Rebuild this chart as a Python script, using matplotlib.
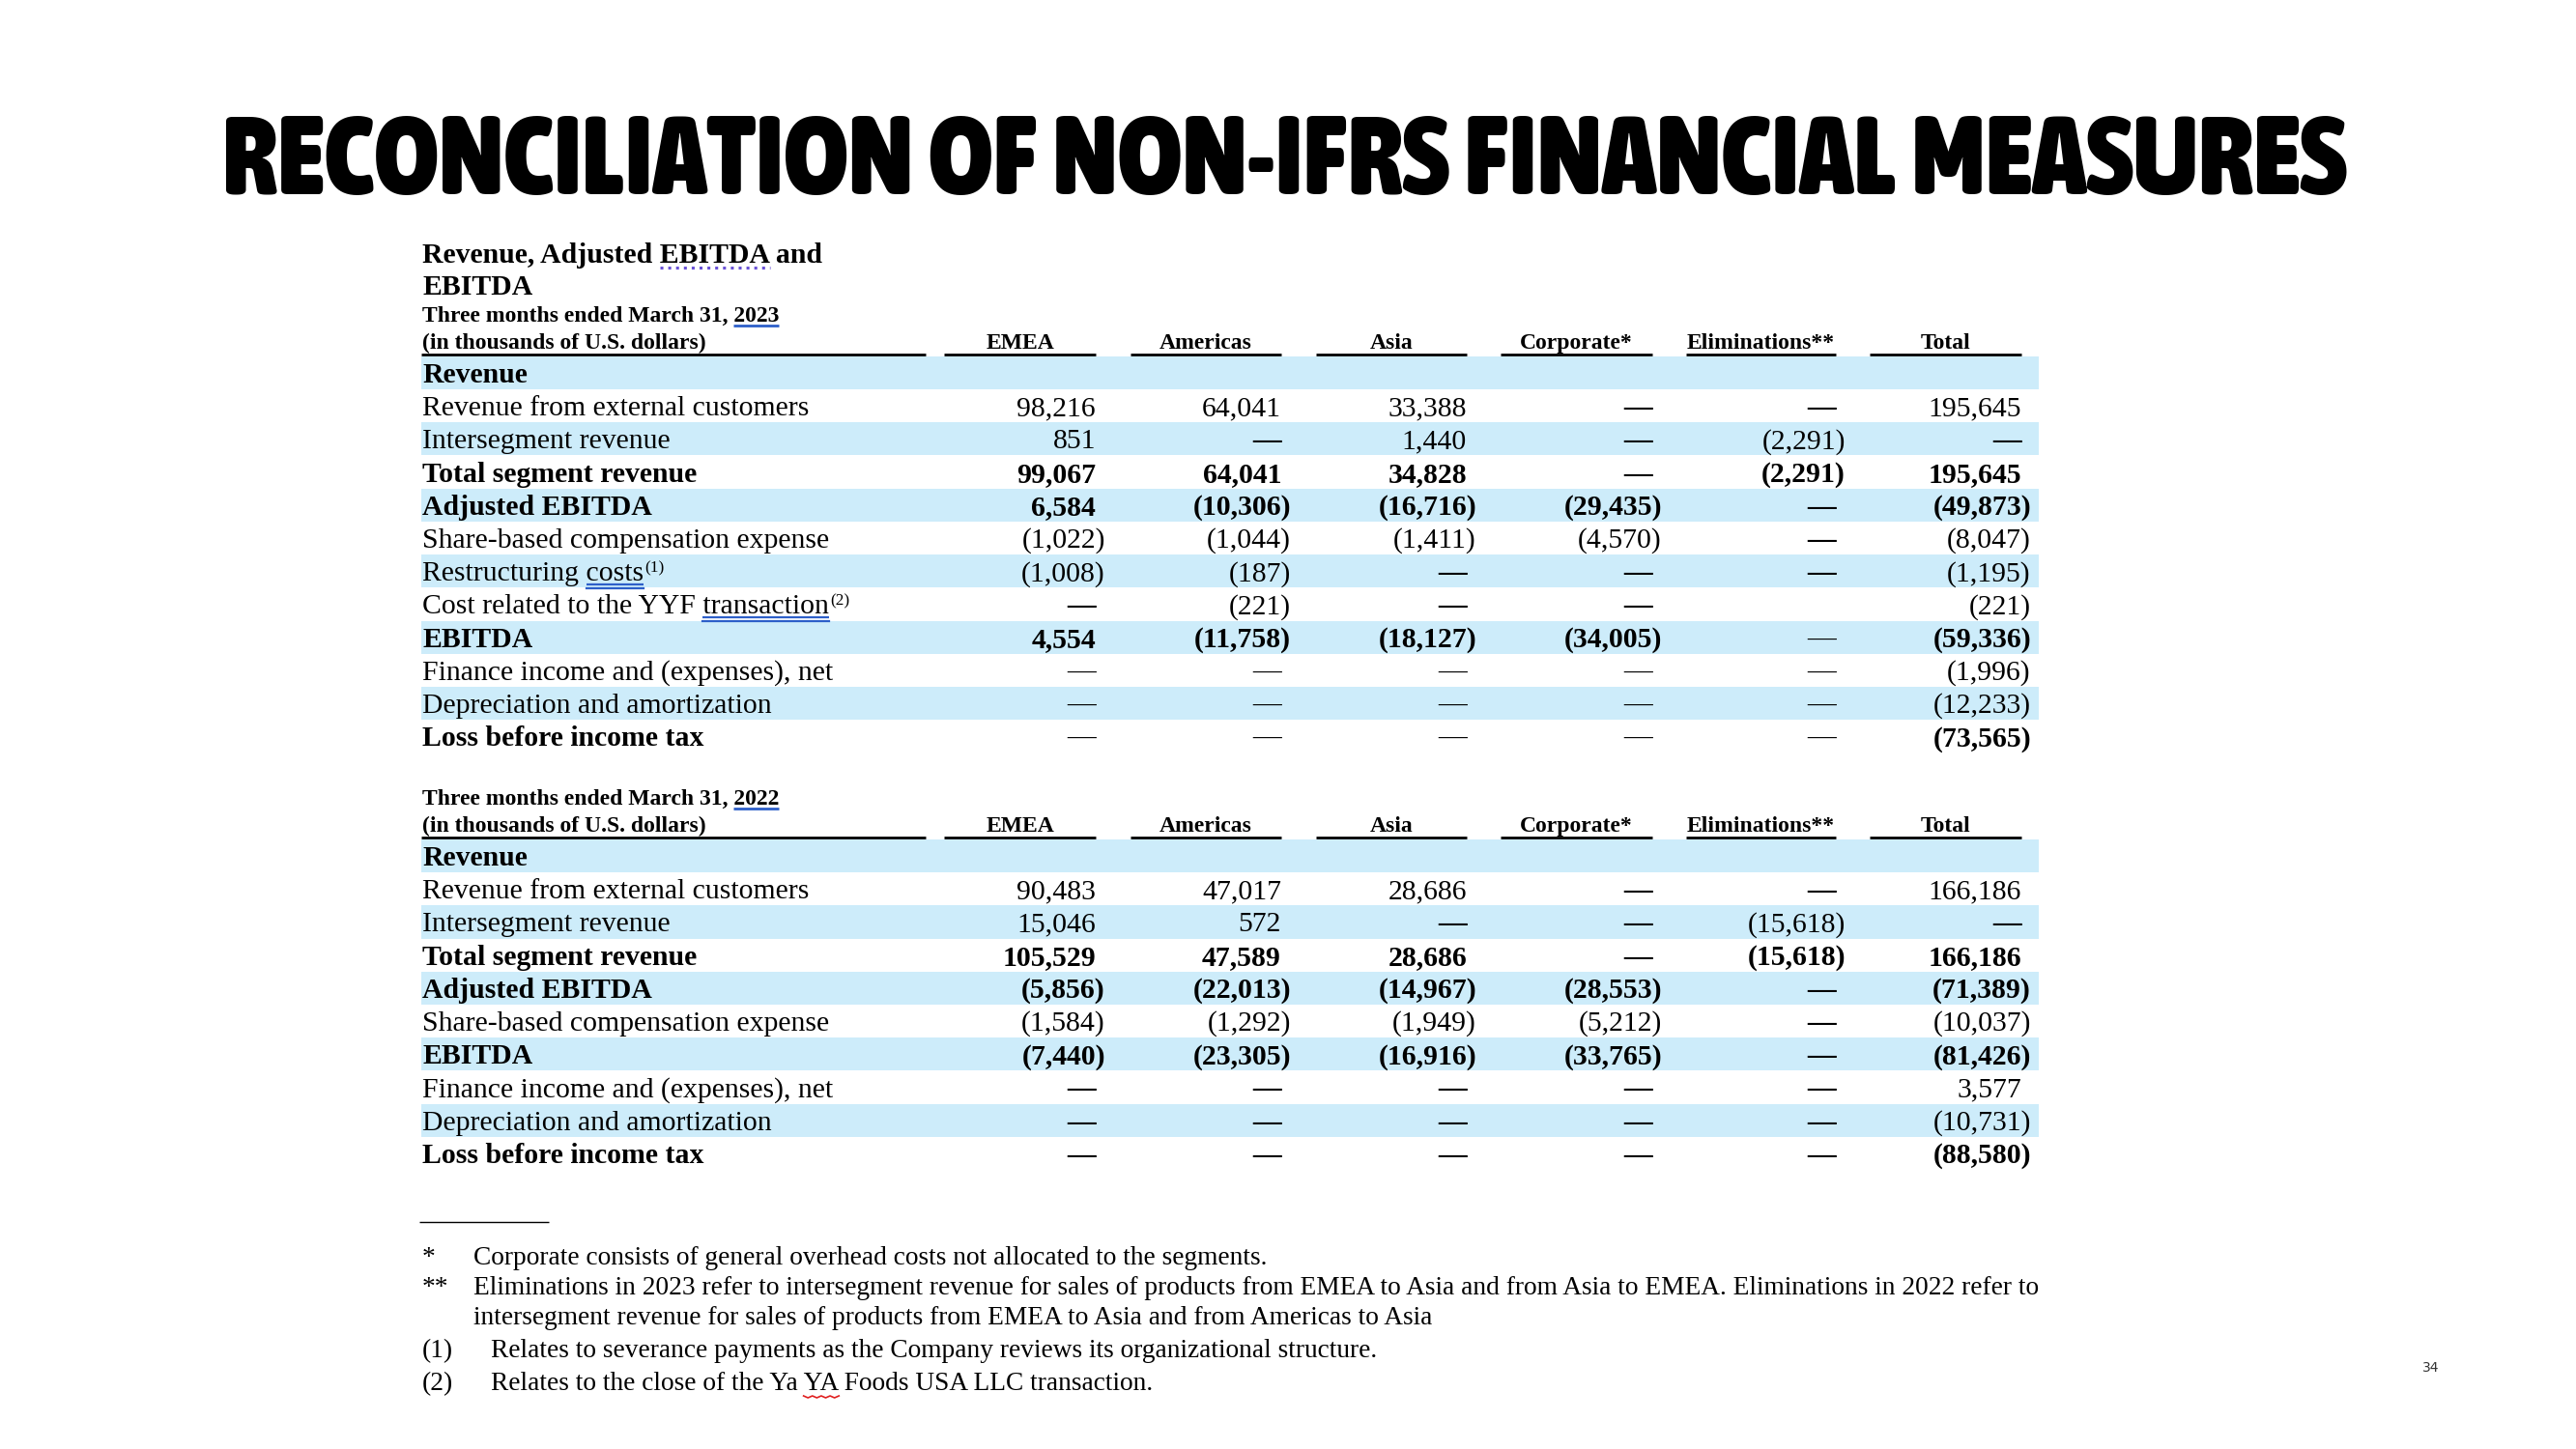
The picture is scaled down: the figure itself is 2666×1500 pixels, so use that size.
import matplotlib.pyplot as plt
import numpy as np
from matplotlib import font_manager
from matplotlib.font_manager import FontProperties

title_text = 'RECONCILIATION OF NON-IFRS FINANCIAL MEASURES'
heading_lines = ['Revenue, Adjusted EBITDA and', 'EBITDA']
unit_text = '(in thousands of U.S. dollars)'
col_names = ['EMEA', 'Americas', 'Asia', 'Corporate*', 'Eliminations**', 'Total']

# ---- three months ended March 31, 2023
rows_2023 = ['Revenue', 'Revenue from external customers', 'Intersegment revenue',
             'Total segment revenue', 'Adjusted EBITDA', 'Share-based compensation expense',
             'Restructuring costs', 'Cost related to the YYF transaction', 'EBITDA',
             'Finance income and (expenses), net', 'Depreciation and amortization',
             'Loss before income tax']
bold_2023 = [True, False, False, True, True, False, False, False, True, False, False, True]
notes_2023 = ['', '', '', '', '', '', '(1)', '(2)', '', '', '', '']
emea_2023 = ['', '98,216', '851', '99,067', '6,584', '(1,022)', '(1,008)', '—', '4,554', '—', '—', '—']
americas_2023 = ['', '64,041', '—', '64,041', '(10,306)', '(1,044)', '(187)', '(221)', '(11,758)', '—', '—', '—']
asia_2023 = ['', '33,388', '1,440', '34,828', '(16,716)', '(1,411)', '—', '—', '(18,127)', '—', '—', '—']
corporate_2023 = ['', '—', '—', '—', '(29,435)', '(4,570)', '—', '—', '(34,005)', '—', '—', '—']
elim_2023 = ['', '—', '(2,291)', '(2,291)', '—', '—', '—', '', '—', '—', '—', '—']
total_2023 = ['', '195,645', '—', '195,645', '(49,873)', '(8,047)', '(1,195)', '(221)', '(59,336)',
              '(1,996)', '(12,233)', '(73,565)']
thin_rows_2023 = [9, 10, 11]
thin_cells_2023 = [(8, 4)]

# ---- three months ended March 31, 2022
rows_2022 = ['Revenue', 'Revenue from external customers', 'Intersegment revenue',
             'Total segment revenue', 'Adjusted EBITDA', 'Share-based compensation expense',
             'EBITDA', 'Finance income and (expenses), net', 'Depreciation and amortization',
             'Loss before income tax']
bold_2022 = [True, False, False, True, True, False, True, False, False, True]
notes_2022 = [''] * 10
emea_2022 = ['', '90,483', '15,046', '105,529', '(5,856)', '(1,584)', '(7,440)', '—', '—', '—']
americas_2022 = ['', '47,017', '572', '47,589', '(22,013)', '(1,292)', '(23,305)', '—', '—', '—']
asia_2022 = ['', '28,686', '—', '28,686', '(14,967)', '(1,949)', '(16,916)', '—', '—', '—']
corporate_2022 = ['', '—', '—', '—', '(28,553)', '(5,212)', '(33,765)', '—', '—', '—']
elim_2022 = ['', '—', '(15,618)', '(15,618)', '—', '—', '—', '—', '—', '—']
total_2022 = ['', '166,186', '—', '166,186', '(71,389)', '(10,037)', '(81,426)', '3,577',
              '(10,731)', '(88,580)']

foot_marks = ['*', '**', '', '(1)', '(2)']
foot_lines = ['Corporate consists of general overhead costs not allocated to the segments.',
              'Eliminations in 2023 refer to intersegment revenue for sales of products from EMEA to Asia '
              'and from Asia to EMEA. Eliminations in 2022 refer to',
              'intersegment revenue for sales of products from EMEA to Asia and from Americas to Asia',
              'Relates to severance payments as the Company reviews its organizational structure.',
              'Relates to the close of the Ya YA Foods USA LLC transaction.']
page_no = '34'

# layout (pixels, full size figure)
W, H = 2666, 1500
x_lab = 437
col_left = [977, 1170, 1362, 1553, 1745, 1935]
col_right = [1134, 1326, 1518, 1710, 1900, 2092]
band_l, band_r = 436, 2110
step = 34.2
band_col = '#cdecfa'
serif = 'Liberation Serif'

fig = plt.figure(figsize=(W / 100, H / 100), dpi=100)
ax = fig.add_axes([0, 0, 1, 1])
ax.set_xlim(0, W)
ax.set_ylim(H, 0)
ax.axis('off')
renderer = fig.canvas.get_renderer()


def fp_of(weight, size, family=serif):
    return FontProperties(family=family, weight=weight, size=size)


def text_w(s, fp):
    return renderer.get_text_width_height_descent(s, fp, ismath=False)[0]


def fit_size(s, weight, target):
    return 20 * target / text_w(s, fp_of(weight, 20))


body = fit_size('Revenue from external customers', 'normal', 400)
head = fit_size(heading_lines[0], 'bold', 413)
small = fit_size(unit_text, 'bold', 292)
foot = fit_size(foot_lines[1], 'normal', 1618)


def underline(x, base, full, sub, fp, color, off=5, ls='-', lw=1.6):
    start = x + text_w(full[:full.index(sub)] + sub, fp) - text_w(sub, fp)
    w = text_w(sub, fp)
    ax.plot([start, start + w], [base + off] * 2, color=color, ls=ls, lw=lw,
            solid_capstyle='butt')
    return start, w


# ---- title: pick a heavy, preferably narrow face that is installed
weights = {'ultralight': 200, 'light': 300, 'normal': 400, 'regular': 400, 'book': 400,
           'medium': 500, 'semibold': 600, 'demibold': 600, 'bold': 700, 'heavy': 800,
           'extra bold': 800, 'black': 900}


def wnum(f):
    return f.weight if isinstance(f.weight, int) else weights.get(str(f.weight).lower(), 400)


fonts = font_manager.fontManager.ttflist
narrow = [f for f in fonts if wnum(f) >= 700 and 'italic' not in f.style and 'oblique' not in f.style
          and ('condensed' in str(f.stretch) or 'narrow' in f.name.lower()
               or 'condensed' in f.name.lower() or 'Condensed' in f.fname)]
heavy = [f for f in fonts if wnum(f) >= 800 and f.style == 'normal'
         and f.name in ('Roboto', 'Lato', 'Inter', 'Open Sans', 'Noto Sans')]
if narrow:
    pick = max(narrow, key=wnum)
    title_fp = FontProperties(fname=pick.fname)
elif heavy:
    pick = max(heavy, key=wnum)
    title_fp = FontProperties(fname=pick.fname)
else:
    title_fp = FontProperties(family='DejaVu Sans', weight='bold')
title_fp.set_size(60)
tw = text_w(title_text, title_fp)
title_fp.set_size(60 * 2198 / tw)
ax.text(1329, 170, title_text, ha='center', va='center', fontproperties=title_fp, color='black')

# ---- heading
hfp = fp_of('bold', head)
ax.text(x_lab, 272, heading_lines[0], fontproperties=hfp, va='baseline')
ax.text(x_lab, 305, heading_lines[1], fontproperties=hfp, va='baseline')
underline(x_lab, 272, heading_lines[0], 'EBITDA', hfp, '#6a52d6', off=5, ls=':', lw=2.2)


def draw_block(year, hdr_base, labels, bold, notes, values, thin_rows, thin_cells):
    sfp = fp_of('bold', small)
    year_line = 'Three months ended March 31, ' + year
    ax.text(x_lab, hdr_base - 28, year_line, fontproperties=sfp, va='baseline')
    underline(x_lab, hdr_base - 28, year_line, year, sfp, '#2d5fc9', off=4, lw=2)
    ax.text(x_lab, hdr_base, unit_text, fontproperties=sfp, va='baseline')
    ax.hlines(hdr_base + 6, 436, 958, color='black', lw=2)
    for j, name in enumerate(col_names):
        ax.text((col_left[j] + col_right[j]) / 2, hdr_base, name, fontproperties=sfp,
                ha='center', va='baseline')
        ax.hlines(hdr_base + 6, col_left[j], col_right[j], color='black', lw=2)

    y0 = hdr_base + 25
    ys = y0 + step * np.arange(len(labels))
    blue = [i for i in range(len(labels)) if i % 2 == 0]
    ax.barh(ys[blue], band_r - band_l, left=band_l, height=step, color=band_col, zorder=0)

    for i, lab in enumerate(labels):
        w = 'bold' if bold[i] else 'normal'
        lfp = fp_of(w, body)
        base = ys[i] + 10
        ax.text(x_lab, base, lab, fontproperties=lfp, va='baseline')
        if notes[i]:
            word = lab.split()[-1]
            s, ww = underline(x_lab, base, lab, word, lfp, '#2d5fc9', off=4, lw=1.6)
            ax.plot([s, s + ww], [base + 8] * 2, color='#2d5fc9', lw=1.6)
            ax.text(x_lab + text_w(lab, lfp) + 1, base - 9, notes[i],
                    fontproperties=fp_of('normal', body * 0.58), va='baseline')
        for j, col in enumerate(values):
            v = col[i]
            if not v:
                continue
            if v == '—':
                thin = i in thin_rows or (i, j) in thin_cells
                vfp = fp_of('normal' if thin else 'bold', body)
                x = col_right[j]
            else:
                vfp = fp_of(w, body)
                x = col_right[j] + (text_w(')', vfp) if v.endswith(')') else 0)
            ax.text(x, base, v, fontproperties=vfp, ha='right', va='baseline')


draw_block('2023', 361, rows_2023, bold_2023, notes_2023,
           [emea_2023, americas_2023, asia_2023, corporate_2023, elim_2023, total_2023],
           thin_rows_2023, thin_cells_2023)
draw_block('2022', 861, rows_2022, bold_2022, notes_2022,
           [emea_2022, americas_2022, asia_2022, corporate_2022, elim_2022, total_2022],
           [], [])

# ---- footnotes
ax.hlines(1265, 434, 568, color='black', lw=1)
ffp = fp_of('normal', foot)
foot_y = [1309, 1340, 1371, 1405, 1439]
for mark, line, y in zip(foot_marks, foot_lines, foot_y):
    tx = 508 if mark.startswith('(') else 490
    if mark:
        ax.text(437, y, mark, fontproperties=ffp, va='baseline')
    ax.text(tx, y, line, fontproperties=ffp, va='baseline')
s, ww = underline(508, 1439, foot_lines[4], 'YA', ffp, 'none', off=0)
zx = np.linspace(s, s + ww, 9)
ax.plot(zx, 1439 + 6 + 2 * (np.arange(9) % 2), color='#e02020', lw=1.2)

ax.text(2516, 1416, page_no, ha='center', va='center', fontsize=10,
        family='DejaVu Sans', color='#333333')

fig.savefig('out.png', dpi=100, facecolor='white')
